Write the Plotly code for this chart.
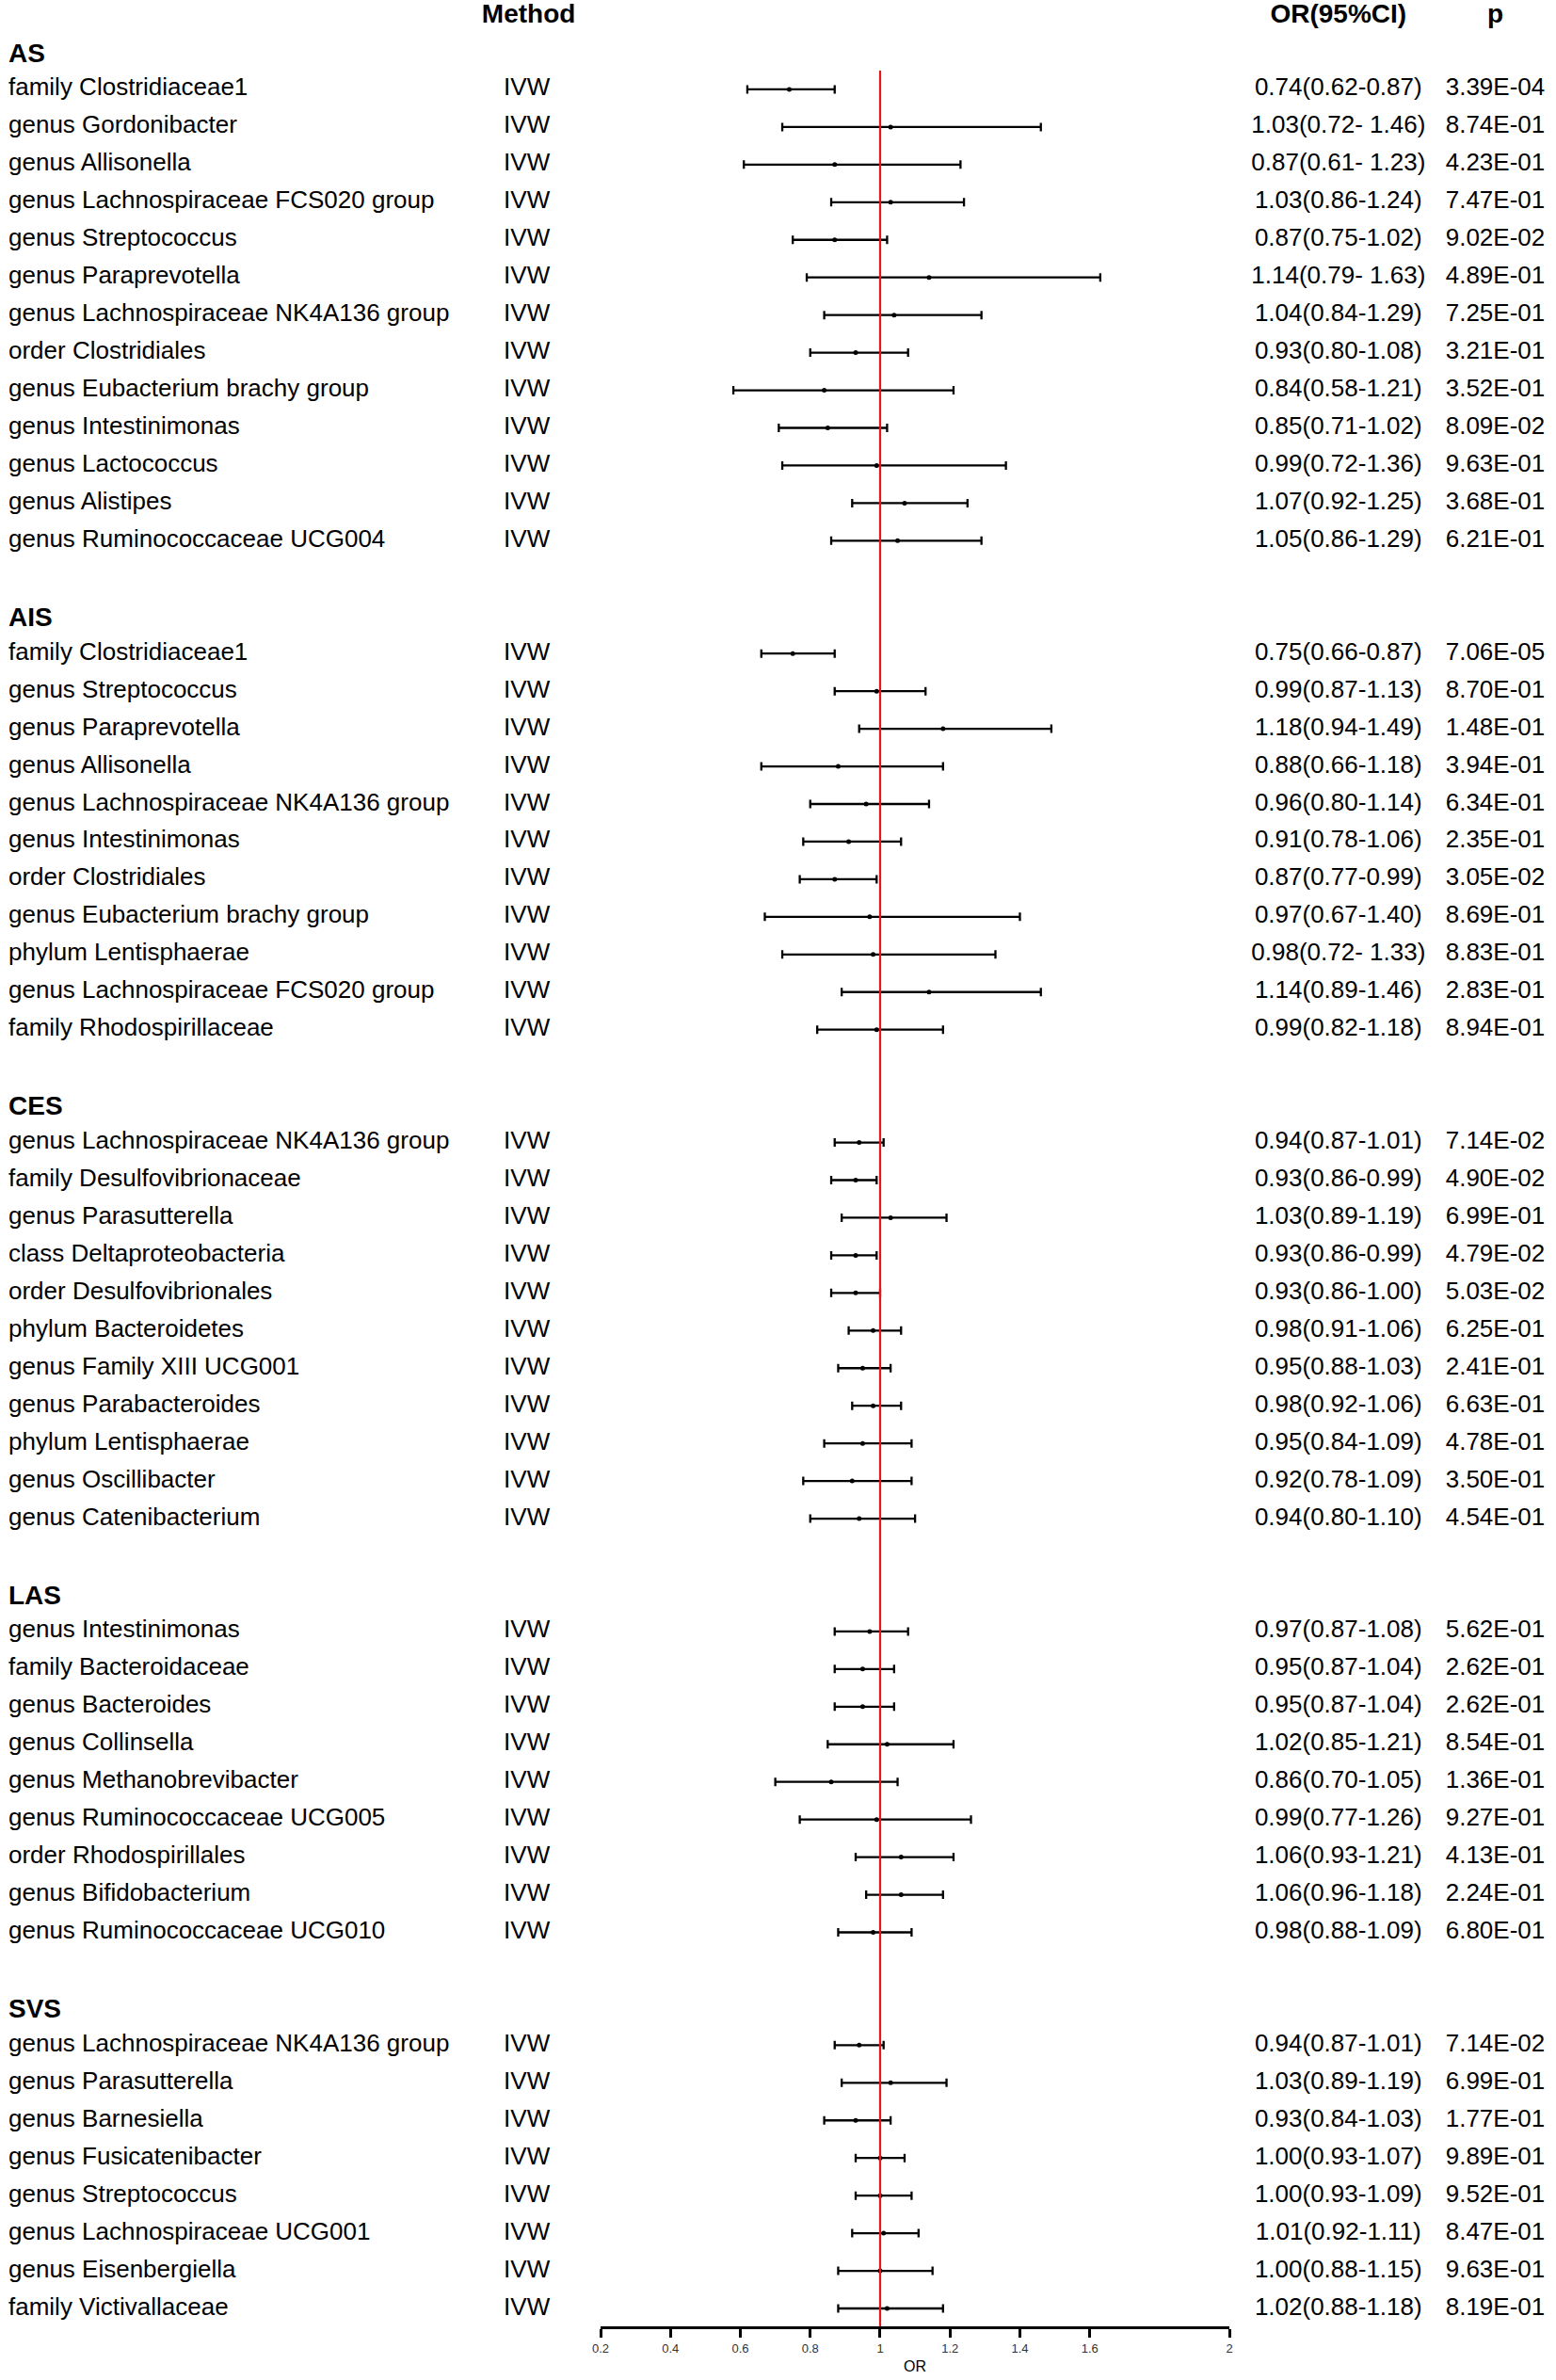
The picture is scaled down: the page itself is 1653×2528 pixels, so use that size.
import plotly.graph_objects as go

# forest plot of IVW estimates, five outcomes
sections = ['AS', 'AIS', 'CES', 'LAS', 'SVS']
section_sizes = [13, 11, 11, 9, 8]

taxa = [
    # AS
    'family Clostridiaceae1', 'genus Gordonibacter', 'genus Allisonella',
    'genus Lachnospiraceae FCS020 group', 'genus Streptococcus', 'genus Paraprevotella',
    'genus Lachnospiraceae NK4A136 group', 'order Clostridiales', 'genus Eubacterium brachy group',
    'genus Intestinimonas', 'genus Lactococcus', 'genus Alistipes', 'genus Ruminococcaceae UCG004',
    # AIS
    'family Clostridiaceae1', 'genus Streptococcus', 'genus Paraprevotella', 'genus Allisonella',
    'genus Lachnospiraceae NK4A136 group', 'genus Intestinimonas', 'order Clostridiales',
    'genus Eubacterium brachy group', 'phylum Lentisphaerae', 'genus Lachnospiraceae FCS020 group',
    'family Rhodospirillaceae',
    # CES
    'genus Lachnospiraceae NK4A136 group', 'family Desulfovibrionaceae', 'genus Parasutterella',
    'class Deltaproteobacteria', 'order Desulfovibrionales', 'phylum Bacteroidetes',
    'genus Family XIII UCG001', 'genus Parabacteroides', 'phylum Lentisphaerae',
    'genus Oscillibacter', 'genus Catenibacterium',
    # LAS
    'genus Intestinimonas', 'family Bacteroidaceae', 'genus Bacteroides', 'genus Collinsella',
    'genus Methanobrevibacter', 'genus Ruminococcaceae UCG005', 'order Rhodospirillales',
    'genus Bifidobacterium', 'genus Ruminococcaceae UCG010',
    # SVS
    'genus Lachnospiraceae NK4A136 group', 'genus Parasutterella', 'genus Barnesiella',
    'genus Fusicatenibacter', 'genus Streptococcus', 'genus Lachnospiraceae UCG001',
    'genus Eisenbergiella', 'family Victivallaceae',
]

or_vals = [0.74, 1.03, 0.87, 1.03, 0.87, 1.14, 1.04, 0.93, 0.84, 0.85, 0.99, 1.07, 1.05,
           0.75, 0.99, 1.18, 0.88, 0.96, 0.91, 0.87, 0.97, 0.98, 1.14, 0.99,
           0.94, 0.93, 1.03, 0.93, 0.93, 0.98, 0.95, 0.98, 0.95, 0.92, 0.94,
           0.97, 0.95, 0.95, 1.02, 0.86, 0.99, 1.06, 1.06, 0.98,
           0.94, 1.03, 0.93, 1.00, 1.00, 1.01, 1.00, 1.02]
ci_low = [0.62, 0.72, 0.61, 0.86, 0.75, 0.79, 0.84, 0.80, 0.58, 0.71, 0.72, 0.92, 0.86,
          0.66, 0.87, 0.94, 0.66, 0.80, 0.78, 0.77, 0.67, 0.72, 0.89, 0.82,
          0.87, 0.86, 0.89, 0.86, 0.86, 0.91, 0.88, 0.92, 0.84, 0.78, 0.80,
          0.87, 0.87, 0.87, 0.85, 0.70, 0.77, 0.93, 0.96, 0.88,
          0.87, 0.89, 0.84, 0.93, 0.93, 0.92, 0.88, 0.88]
ci_high = [0.87, 1.46, 1.23, 1.24, 1.02, 1.63, 1.29, 1.08, 1.21, 1.02, 1.36, 1.25, 1.29,
           0.87, 1.13, 1.49, 1.18, 1.14, 1.06, 0.99, 1.40, 1.33, 1.46, 1.18,
           1.01, 0.99, 1.19, 0.99, 1.00, 1.06, 1.03, 1.06, 1.09, 1.09, 1.10,
           1.08, 1.04, 1.04, 1.21, 1.05, 1.26, 1.21, 1.18, 1.09,
           1.01, 1.19, 1.03, 1.07, 1.09, 1.11, 1.15, 1.18]
or_labels = [
    '0.74(0.62-0.87)', '1.03(0.72- 1.46)', '0.87(0.61- 1.23)', '1.03(0.86-1.24)', '0.87(0.75-1.02)',
    '1.14(0.79- 1.63)', '1.04(0.84-1.29)', '0.93(0.80-1.08)', '0.84(0.58-1.21)', '0.85(0.71-1.02)',
    '0.99(0.72-1.36)', '1.07(0.92-1.25)', '1.05(0.86-1.29)',
    '0.75(0.66-0.87)', '0.99(0.87-1.13)', '1.18(0.94-1.49)', '0.88(0.66-1.18)', '0.96(0.80-1.14)',
    '0.91(0.78-1.06)', '0.87(0.77-0.99)', '0.97(0.67-1.40)', '0.98(0.72- 1.33)', '1.14(0.89-1.46)',
    '0.99(0.82-1.18)',
    '0.94(0.87-1.01)', '0.93(0.86-0.99)', '1.03(0.89-1.19)', '0.93(0.86-0.99)', '0.93(0.86-1.00)',
    '0.98(0.91-1.06)', '0.95(0.88-1.03)', '0.98(0.92-1.06)', '0.95(0.84-1.09)', '0.92(0.78-1.09)',
    '0.94(0.80-1.10)',
    '0.97(0.87-1.08)', '0.95(0.87-1.04)', '0.95(0.87-1.04)', '1.02(0.85-1.21)', '0.86(0.70-1.05)',
    '0.99(0.77-1.26)', '1.06(0.93-1.21)', '1.06(0.96-1.18)', '0.98(0.88-1.09)',
    '0.94(0.87-1.01)', '1.03(0.89-1.19)', '0.93(0.84-1.03)', '1.00(0.93-1.07)', '1.00(0.93-1.09)',
    '1.01(0.92-1.11)', '1.00(0.88-1.15)', '1.02(0.88-1.18)',
]
p_labels = [
    '3.39E-04', '8.74E-01', '4.23E-01', '7.47E-01', '9.02E-02', '4.89E-01', '7.25E-01', '3.21E-01',
    '3.52E-01', '8.09E-02', '9.63E-01', '3.68E-01', '6.21E-01',
    '7.06E-05', '8.70E-01', '1.48E-01', '3.94E-01', '6.34E-01', '2.35E-01', '3.05E-02', '8.69E-01',
    '8.83E-01', '2.83E-01', '8.94E-01',
    '7.14E-02', '4.90E-02', '6.99E-01', '4.79E-02', '5.03E-02', '6.25E-01', '2.41E-01', '6.63E-01',
    '4.78E-01', '3.50E-01', '4.54E-01',
    '5.62E-01', '2.62E-01', '2.62E-01', '8.54E-01', '1.36E-01', '9.27E-01', '4.13E-01', '2.24E-01',
    '6.80E-01',
    '7.14E-02', '6.99E-01', '1.77E-01', '9.89E-01', '9.52E-01', '8.47E-01', '9.63E-01', '8.19E-01',
]
method = 'IVW'
x_ticks = [0.2, 0.4, 0.6, 0.8, 1, 1.2, 1.4, 1.6, 2]

# row layout: header row, data rows, blank row
header_rows = []
data_rows = []
r = 0
for n in section_sizes:
    header_rows.append(r)
    r += 1
    data_rows += list(range(r, r + n))
    r += n + 1

W, H = 1653, 2528
pitch = 39.95
axis_px = 2471
r_top = -55 / pitch
r_bot = r_top + axis_px / pitch
y_dom = [(H - axis_px) / H, 1]

FONT = 'Liberation Sans, Arial, sans-serif'

fig = go.Figure()

# estimates with confidence intervals
fig.add_trace(go.Scatter(
    x=or_vals, y=data_rows, mode='markers',
    marker=dict(color='black', size=5, symbol='circle'),
    error_x=dict(type='data', symmetric=False,
                 array=[h - o for h, o in zip(ci_high, or_vals)],
                 arrayminus=[o - l for o, l in zip(or_vals, ci_low)],
                 color='black', thickness=2.3, width=4.5),
    showlegend=False, hoverinfo='skip'))

# text columns on a full-width pixel-like subplot
def text_col(x, rows, labels, pos, size=26, bold=False):
    if bold:
        labels = ['<b>%s</b>' % t for t in labels]
    fig.add_trace(go.Scatter(
        x=[x] * len(rows), y=rows, mode='text', text=labels, textposition=pos,
        textfont=dict(family=FONT, size=size, color='black'),
        xaxis='x2', yaxis='y2', showlegend=False, hoverinfo='skip', cliponaxis=False))

head_r = -0.95
text_col(0, [h + 0.09 for h in header_rows], sections, 'middle right', size=28, bold=True)
text_col(0, data_rows, taxa, 'middle right')
text_col(555, data_rows, [method] * len(data_rows), 'middle center')
text_col(1424, data_rows, or_labels, 'middle center')
text_col(1592, data_rows, p_labels, 'middle center')
text_col(557, [head_r], ['Method'], 'middle center', size=28, bold=True)
text_col(1424, [head_r], ['OR(95%CI)'], 'middle center', size=28, bold=True)
text_col(1592, [head_r], ['p'], 'middle center', size=28, bold=True)

# reference line at OR = 1
fig.add_shape(type='line', x0=1, x1=1, y0=0.5, y1=r_bot, xref='x', yref='y',
              line=dict(color='#e8141b', width=2.2))

fig.update_layout(
    width=W, height=H,
    margin=dict(l=0, r=0, t=0, b=0),
    plot_bgcolor='rgba(0,0,0,0)', paper_bgcolor='white',
    font=dict(family=FONT, color='black'),
    xaxis=dict(domain=[634 / W, 1307.5 / W], range=[0.2, 2],
               tickvals=x_ticks, ticktext=[('%g' % v) for v in x_ticks],
               showline=True, linecolor='black', linewidth=3,
               ticks='outside', ticklen=9, tickwidth=3, tickcolor='black',
               tickfont=dict(size=13, color='#333333'),
               title=dict(text='OR', font=dict(size=16), standoff=8),
               showgrid=False, zeroline=False, fixedrange=True),
    yaxis=dict(domain=y_dom, range=[r_bot, r_top],
               visible=False, showgrid=False, zeroline=False, fixedrange=True),
    xaxis2=dict(domain=[0, 1], range=[0, W], anchor='y2',
                visible=False, fixedrange=True),
    yaxis2=dict(domain=y_dom, range=[r_bot, r_top], anchor='x2',
                visible=False, fixedrange=True),
)

# drop the default 8px page margin so the figure fills the window exactly
fig.write_html('out.html', config={'displayModeBar': False},
               post_script="document.body.style.margin='0px';")
